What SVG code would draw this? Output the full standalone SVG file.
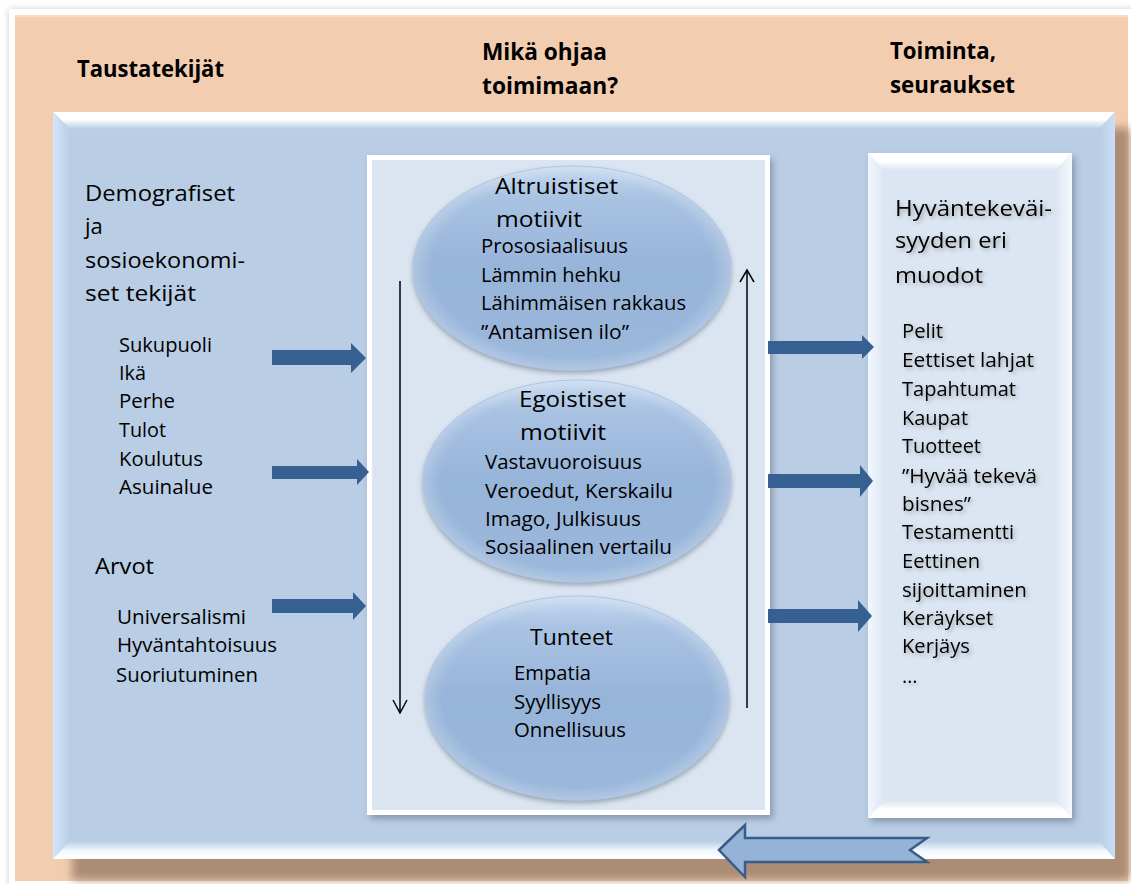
<svg xmlns="http://www.w3.org/2000/svg" width="1131" height="884" viewBox="0 0 1131 884">
<defs>
<style>
text{font-family:"Open Sans","Noto Sans","Liberation Sans",sans-serif;fill:#000}
.h{font-weight:bold;font-size:24px}
.l{font-size:22px}
.s{font-size:20px}
.blk{fill:#376092}
.vline{stroke:#000;stroke-width:1.5;fill:none}
</style>
<filter id="pageShadow" x="-5%" y="-5%" width="110%" height="110%">
<feGaussianBlur stdDeviation="3"/>
</filter>
<filter id="brownShadow" x="-5%" y="-5%" width="110%" height="110%">
<feGaussianBlur stdDeviation="4"/>
</filter>
<filter id="boxShadow" x="-10%" y="-10%" width="120%" height="120%">
<feGaussianBlur in="SourceAlpha" stdDeviation="3"/>
<feOffset dx="3" dy="4" result="b"/>
<feFlood flood-color="#55657a" flood-opacity="0.5"/>
<feComposite in2="b" operator="in" result="sh"/>
<feMerge><feMergeNode in="sh"/><feMergeNode in="SourceGraphic"/></feMerge>
</filter>
<filter id="ellShadow" x="-10%" y="-10%" width="120%" height="125%">
<feGaussianBlur in="SourceAlpha" stdDeviation="2.5"/>
<feOffset dx="0" dy="3" result="b"/>
<feFlood flood-color="#4a5a70" flood-opacity="0.45"/>
<feComposite in2="b" operator="in" result="sh"/>
<feMerge><feMergeNode in="sh"/><feMergeNode in="SourceGraphic"/></feMerge>
</filter>
<filter id="txtShadow" x="-10%" y="-20%" width="130%" height="150%">
<feGaussianBlur in="SourceAlpha" stdDeviation="2"/>
<feOffset dx="2" dy="2" result="b"/>
<feFlood flood-color="#000" flood-opacity="0.3"/>
<feComposite in2="b" operator="in" result="sh"/>
<feMerge><feMergeNode in="sh"/><feMergeNode in="SourceGraphic"/></feMerge>
</filter>
<linearGradient id="gTop" x1="0" y1="0" x2="0" y2="1"><stop offset="0" stop-color="#fff"/><stop offset="0.45" stop-color="#fff"/><stop offset="1" stop-color="#b9cde5"/></linearGradient>
<linearGradient id="gBot" x1="0" y1="0" x2="0" y2="1"><stop offset="0" stop-color="#b9cde5"/><stop offset="0.55" stop-color="#f4f9ff"/><stop offset="1" stop-color="#fff"/></linearGradient>
<linearGradient id="gLeft" x1="0" y1="0" x2="1" y2="0"><stop offset="0" stop-color="#d3e6fc"/><stop offset="1" stop-color="#b9cde5"/></linearGradient>
<linearGradient id="gRight" x1="0" y1="0" x2="1" y2="0"><stop offset="0" stop-color="#b9cde5"/><stop offset="1" stop-color="#cadef7"/></linearGradient>
<linearGradient id="rTop" x1="0" y1="0" x2="0" y2="1"><stop offset="0" stop-color="#fff"/><stop offset="0.5" stop-color="#fff"/><stop offset="1" stop-color="#dce6f2"/></linearGradient>
<linearGradient id="rBot" x1="0" y1="0" x2="0" y2="1"><stop offset="0" stop-color="#dce6f2"/><stop offset="0.5" stop-color="#fff"/><stop offset="1" stop-color="#fff"/></linearGradient>
<linearGradient id="rLeft" x1="0" y1="0" x2="1" y2="0"><stop offset="0" stop-color="#f3f8ff"/><stop offset="1" stop-color="#dce6f2"/></linearGradient>
<linearGradient id="rRight" x1="0" y1="0" x2="1" y2="0"><stop offset="0" stop-color="#dce6f2"/><stop offset="1" stop-color="#f6faff"/></linearGradient>
<linearGradient id="ellFill" x1="0" y1="0" x2="0" y2="1">
<stop offset="0" stop-color="#c6d9f0"/><stop offset="0.15" stop-color="#aac3e3"/><stop offset="0.5" stop-color="#97b4d9"/><stop offset="1" stop-color="#9cb9dc"/>
</linearGradient>
<radialGradient id="ellRim" cx="0.5" cy="0.5" r="0.5">
<stop offset="0.88" stop-color="#ffffff" stop-opacity="0"/><stop offset="1" stop-color="#ffffff" stop-opacity="0.22"/>
</radialGradient>
</defs>

<!-- page -->
<rect x="0" y="0" width="1131" height="884" fill="#fff"/>
<rect x="9" y="9" width="1126" height="878" fill="#999" opacity="0.5" filter="url(#pageShadow)"/>
<rect x="9" y="9" width="1124" height="876" fill="#fff"/>

<g id="frame">
<rect x="15" y="15" width="1113" height="866" fill="#f2cdb0"/>
<rect x="15" y="15" width="1113" height="2" fill="#f8dcc6"/>
<rect x="72" y="128" width="1058" height="752" fill="#ab8c75" filter="url(#brownShadow)"/>
</g>

<g id="panel">
<rect x="53" y="112" width="1062" height="747" fill="#b9cde5"/>
<polygon points="53,112 1115,112 1099,129 70,129" fill="url(#gTop)"/>
<polygon points="53,112 70,129 70,841 53,859" fill="url(#gLeft)"/>
<polygon points="1115,112 1115,859 1099,841 1099,129" fill="url(#gRight)"/>
<polygon points="53,859 70,841 1099,841 1115,859" fill="url(#gBot)"/>
</g>

<g id="headings">
<text class="h" x="77" y="77" textLength="147" lengthAdjust="spacingAndGlyphs">Taustatekijät</text>
<text class="h" x="482" y="60" textLength="125" lengthAdjust="spacingAndGlyphs">Mikä ohjaa</text>
<text class="h" x="482" y="94" textLength="136" lengthAdjust="spacingAndGlyphs">toimimaan?</text>
<text class="h" x="890" y="59" textLength="106" lengthAdjust="spacingAndGlyphs">Toiminta,</text>
<text class="h" x="890" y="93" textLength="125" lengthAdjust="spacingAndGlyphs">seuraukset</text>
</g>

<g id="left-factors">
<text class="l" x="85" y="201" textLength="150" lengthAdjust="spacingAndGlyphs">Demografiset</text>
<text class="l" x="85" y="234">ja</text>
<text class="l" x="85" y="268" textLength="160" lengthAdjust="spacingAndGlyphs">sosioekonomi-</text>
<text class="l" x="85" y="301" textLength="111" lengthAdjust="spacingAndGlyphs">set tekijät</text>
<text class="s" x="119" y="352" textLength="93" lengthAdjust="spacingAndGlyphs">Sukupuoli</text>
<text class="s" x="119" y="380" textLength="27" lengthAdjust="spacingAndGlyphs">Ikä</text>
<text class="s" x="119" y="408" textLength="56" lengthAdjust="spacingAndGlyphs">Perhe</text>
<text class="s" x="119" y="437" textLength="47" lengthAdjust="spacingAndGlyphs">Tulot</text>
<text class="s" x="119" y="466" textLength="84" lengthAdjust="spacingAndGlyphs">Koulutus</text>
<text class="s" x="119" y="494" textLength="94" lengthAdjust="spacingAndGlyphs">Asuinalue</text>
<text class="l" x="95" y="574" textLength="59" lengthAdjust="spacingAndGlyphs">Arvot</text>
<text class="s" x="117" y="624" textLength="129" lengthAdjust="spacingAndGlyphs">Universalismi</text>
<text class="s" x="117" y="652" textLength="160" lengthAdjust="spacingAndGlyphs">Hyväntahtoisuus</text>
<text class="s" x="116" y="682" textLength="142" lengthAdjust="spacingAndGlyphs">Suoriutuminen</text>
</g>

<g id="motives-box" filter="url(#boxShadow)">
<rect x="367" y="155" width="403" height="660" fill="#fff"/>
<rect x="372" y="160" width="393" height="650" fill="#dbe5f1"/>
</g>

<g id="results-box" filter="url(#boxShadow)">
<rect x="868" y="153" width="204" height="665" fill="#dce6f2"/>
<polygon points="868,153 1072,153 1056,170 884,170" fill="url(#rTop)"/>
<polygon points="868,153 884,170 884,801 868,818" fill="url(#rLeft)"/>
<polygon points="1072,153 1072,818 1056,801 1056,170" fill="url(#rRight)"/>
<polygon points="868,818 884,801 1056,801 1072,818" fill="url(#rBot)"/>
</g>

<g id="altruistic" filter="url(#ellShadow)">
<ellipse cx="572" cy="268" rx="159" ry="102" fill="url(#ellFill)"/>
<ellipse cx="572" cy="268" rx="159" ry="102" fill="url(#ellRim)" stroke="#aec6e4" stroke-width="1"/>
</g>
<g id="altruistic-text">
<text class="l" x="495" y="194" textLength="123" lengthAdjust="spacingAndGlyphs">Altruistiset</text>
<text class="l" x="496" y="227" textLength="86" lengthAdjust="spacingAndGlyphs">motiivit</text>
<text class="s" x="481" y="253" textLength="147" lengthAdjust="spacingAndGlyphs">Prososiaalisuus</text>
<text class="s" x="481" y="282" textLength="140" lengthAdjust="spacingAndGlyphs">Lämmin hehku</text>
<text class="s" x="481" y="310" textLength="205" lengthAdjust="spacingAndGlyphs">Lähimmäisen rakkaus</text>
<text class="s" x="481" y="339" textLength="148" lengthAdjust="spacingAndGlyphs">”Antamisen ilo”</text>
</g>

<g id="egoistic" filter="url(#ellShadow)">
<ellipse cx="577" cy="481" rx="154" ry="101" fill="url(#ellFill)"/>
<ellipse cx="577" cy="481" rx="154" ry="101" fill="url(#ellRim)" stroke="#aec6e4" stroke-width="1"/>
</g>
<g id="egoistic-text">
<text class="l" x="519" y="407" textLength="107" lengthAdjust="spacingAndGlyphs">Egoistiset</text>
<text class="l" x="520" y="440" textLength="86" lengthAdjust="spacingAndGlyphs">motiivit</text>
<text class="s" x="485" y="469" textLength="157" lengthAdjust="spacingAndGlyphs">Vastavuoroisuus</text>
<text class="s" x="485" y="498" textLength="188" lengthAdjust="spacingAndGlyphs">Veroedut, Kerskailu</text>
<text class="s" x="485" y="526" textLength="156" lengthAdjust="spacingAndGlyphs">Imago, Julkisuus</text>
<text class="s" x="485" y="554" textLength="187" lengthAdjust="spacingAndGlyphs">Sosiaalinen vertailu</text>
</g>

<g id="emotions" filter="url(#ellShadow)">
<ellipse cx="577" cy="698" rx="152" ry="102" fill="url(#ellFill)"/>
<ellipse cx="577" cy="698" rx="152" ry="102" fill="url(#ellRim)" stroke="#aec6e4" stroke-width="1"/>
</g>
<g id="emotions-text">
<text class="l" x="530" y="645" textLength="83" lengthAdjust="spacingAndGlyphs">Tunteet</text>
<text class="s" x="514" y="680" textLength="77" lengthAdjust="spacingAndGlyphs">Empatia</text>
<text class="s" x="514" y="709" textLength="87" lengthAdjust="spacingAndGlyphs">Syyllisyys</text>
<text class="s" x="514" y="737" textLength="112" lengthAdjust="spacingAndGlyphs">Onnellisuus</text>
</g>

<g id="results-text" filter="url(#txtShadow)">
<text class="l" x="895" y="216" textLength="157" lengthAdjust="spacingAndGlyphs">Hyväntekeväi-</text>
<text class="l" x="895" y="248" textLength="112" lengthAdjust="spacingAndGlyphs">syyden eri</text>
<text class="l" x="895" y="283" textLength="88" lengthAdjust="spacingAndGlyphs">muodot</text>
<text class="s" x="902" y="338" textLength="41" lengthAdjust="spacingAndGlyphs">Pelit</text>
<text class="s" x="902" y="367" textLength="132" lengthAdjust="spacingAndGlyphs">Eettiset lahjat</text>
<text class="s" x="902" y="396" textLength="114" lengthAdjust="spacingAndGlyphs">Tapahtumat</text>
<text class="s" x="902" y="425" textLength="66" lengthAdjust="spacingAndGlyphs">Kaupat</text>
<text class="s" x="902" y="453" textLength="79" lengthAdjust="spacingAndGlyphs">Tuotteet</text>
<text class="s" x="902" y="483" textLength="135" lengthAdjust="spacingAndGlyphs">”Hyvää tekevä</text>
<text class="s" x="902" y="511" textLength="69" lengthAdjust="spacingAndGlyphs">bisnes”</text>
<text class="s" x="902" y="539" textLength="112" lengthAdjust="spacingAndGlyphs">Testamentti</text>
<text class="s" x="902" y="568" textLength="78" lengthAdjust="spacingAndGlyphs">Eettinen</text>
<text class="s" x="902" y="597" textLength="125" lengthAdjust="spacingAndGlyphs">sijoittaminen</text>
<text class="s" x="902" y="625" textLength="91" lengthAdjust="spacingAndGlyphs">Keräykset</text>
<text class="s" x="902" y="653" textLength="68" lengthAdjust="spacingAndGlyphs">Kerjäys</text>
<text class="s" x="902" y="683">…</text>
</g>

<g id="connectors">
<polygon class="blk" points="272,350 351,350 351,343 366,358 351,373 351,365 272,365"/>
<polygon class="blk" points="272,466 357,466 357,459 369,472 357,485 357,479 272,479"/>
<polygon class="blk" points="272,599 353,599 353,592 366,606 353,620 353,613 272,613"/>
<polygon class="blk" points="768,341 862,341 862,335 874,347 862,359 862,354 768,354"/>
<polygon class="blk" points="768,474 860,474 860,465 873,481 860,497 860,488 768,488"/>
<polygon class="blk" points="768,609 858,609 858,600 872,616 858,632 858,623 768,623"/>
<line class="vline" x1="400" y1="281" x2="400" y2="713"/>
<polyline class="vline" points="393,700 400,713 407,700"/>
<line class="vline" x1="747" y1="708" x2="747" y2="270"/>
<polyline class="vline" points="740,282 747,270 754,282"/>
<polygon points="719,850 745,825 745,838 927,838 910,850 927,862 745,862 745,877" fill="#95b3d7" stroke="#385d8a" stroke-width="2.5" stroke-linejoin="miter"/>
</g>
</svg>
